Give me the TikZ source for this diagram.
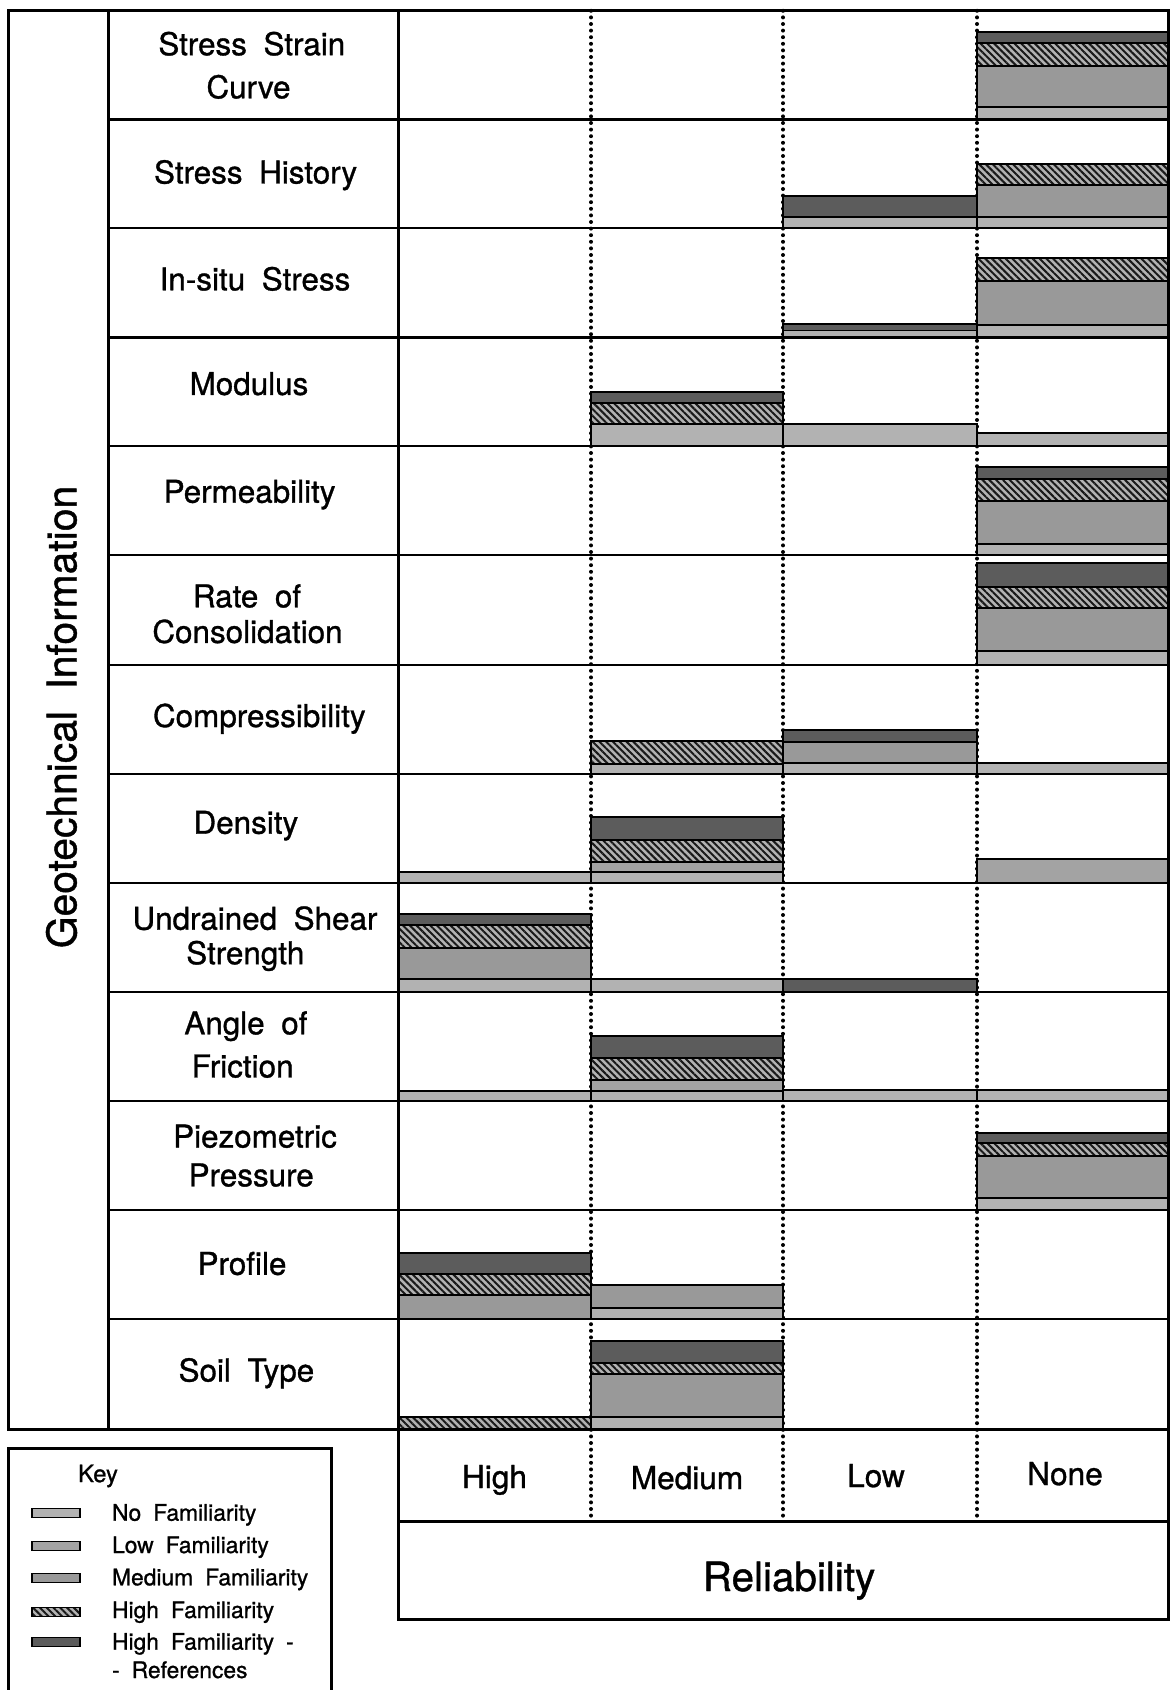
\documentclass[tikz,border=0pt]{standalone}
\usepackage{fontspec}
\setmainfont[WordSpace=1.9,FakeBold=1]{TeX Gyre Heros}
\usetikzlibrary{patterns.meta}

% column edges of the reliability grid
\def\cA{398}
\def\cB{591}
\def\cC{783}
\def\cD{977}
\def\cE{1168}

\begin{document}
\begin{tikzpicture}[x=0.5pt,y=-0.5pt,
  frame/.style={line width=1.5pt, line cap=rect},
  rowline/.style={line width=1.2pt},
  dotline/.style={line width=2pt, dash pattern=on 0pt off 3.3pt, line cap=round},
  segbase/.style={draw=black, line width=0.9pt},
  segNo/.style={segbase, fill=black!30},
  segLow/.style={segbase, fill=black!36},
  segMed/.style={segbase, fill=black!40},
  segHigh/.style={segbase, preaction={fill=black!30},
    pattern={Lines[angle=-45,distance=2.4pt,line width=1pt]}, pattern color=black!90},
  segRef/.style={segbase, fill=black!64},
  lab/.style={font=\fontsize{15.7}{19}\selectfont, anchor=base, inner sep=0pt},
  colhead/.style={font=\fontsize{15.8}{19}\selectfont, anchor=base, inner sep=0pt},
  keytext/.style={font=\fontsize{11.4}{14}\selectfont, anchor=base west, inner sep=0pt},
]
\useasboundingbox (0,0) rectangle (1171,1690);
\fill[white] (0,0) rectangle (1171,1690);

% dotted separators between reliability classes
\draw[dotline] (\cB,10.8) -- (\cB,1521);
\draw[dotline] (\cC,10.8) -- (\cC,1521);
\draw[dotline] (\cD,10.8) -- (\cD,1521);

% ---- stacked familiarity bars (bottom: none ... top: references) ----
% Stress Strain Curve
\draw[segRef]  (\cD,31.7) rectangle (\cE,43.3);
\draw[segHigh] (\cD,43.3) rectangle (\cE,66);
\draw[segMed]  (\cD,66) rectangle (\cE,107.3);
\draw[segNo]   (\cD,107.3) rectangle (\cE,119.5);
% Stress History
\draw[segRef]  (\cC,195.7) rectangle (\cD,216.7);
\draw[segNo]   (\cC,216.7) rectangle (\cD,228);
\draw[segHigh] (\cD,164) rectangle (\cE,185);
\draw[segMed]  (\cD,185) rectangle (\cE,217.3);
\draw[segNo]   (\cD,217.3) rectangle (\cE,228);
% In-situ Stress
\draw[segRef]  (\cC,324.3) rectangle (\cD,330.5);
\draw[segNo]   (\cC,330.5) rectangle (\cD,337.5);
\draw[segHigh] (\cD,258.3) rectangle (\cE,280.7);
\draw[segMed]  (\cD,280.7) rectangle (\cE,325);
\draw[segNo]   (\cD,325) rectangle (\cE,337.5);
% Modulus
\draw[segRef]  (\cB,391.7) rectangle (\cC,402.7);
\draw[segHigh] (\cB,402.7) rectangle (\cC,424.3);
\draw[segNo]   (\cB,424.3) rectangle (\cC,446);
\draw[segNo]   (\cC,424.3) rectangle (\cD,446);
\draw[segNo]   (\cD,433.3) rectangle (\cE,446);
% Permeability
\draw[segRef]  (\cD,466.7) rectangle (\cE,479.3);
\draw[segHigh] (\cD,479.3) rectangle (\cE,501);
\draw[segMed]  (\cD,501) rectangle (\cE,544.3);
\draw[segNo]   (\cD,544.3) rectangle (\cE,555);
% Rate of Consolidation
\draw[segRef]  (\cD,563.3) rectangle (\cE,586.7);
\draw[segHigh] (\cD,586.7) rectangle (\cE,608.3);
\draw[segMed]  (\cD,608.3) rectangle (\cE,651);
\draw[segNo]   (\cD,651) rectangle (\cE,665);
% Compressibility
\draw[segHigh] (\cB,741) rectangle (\cC,764);
\draw[segNo]   (\cB,764) rectangle (\cC,774);
\draw[segRef]  (\cC,730) rectangle (\cD,741.7);
\draw[segMed]  (\cC,741.7) rectangle (\cD,762.7);
\draw[segNo]   (\cC,762.7) rectangle (\cD,774);
\draw[segNo]   (\cD,762.7) rectangle (\cE,774);
% Density
\draw[segNo]   (\cA,871.7) rectangle (\cB,883);
\draw[segRef]  (\cB,816.7) rectangle (\cC,840);
\draw[segHigh] (\cB,840) rectangle (\cC,861.7);
\draw[segLow]  (\cB,861.7) rectangle (\cC,871.7);
\draw[segNo]   (\cB,871.7) rectangle (\cC,883);
\draw[segLow]  (\cD,859.3) rectangle (\cE,883);
% Undrained Shear Strength
\draw[segRef]  (\cA,914.3) rectangle (\cB,925);
\draw[segHigh] (\cA,925) rectangle (\cB,948.3);
\draw[segMed]  (\cA,948.3) rectangle (\cB,979.3);
\draw[segNo]   (\cA,979.3) rectangle (\cB,992);
\draw[segNo]   (\cB,979.3) rectangle (\cC,992);
\draw[segRef]  (\cC,979.3) rectangle (\cD,992);
% Angle of Friction
\draw[segNo]   (\cA,1091) rectangle (\cB,1101);
\draw[segRef]  (\cB,1035.7) rectangle (\cC,1058.3);
\draw[segHigh] (\cB,1058.3) rectangle (\cC,1080);
\draw[segLow]  (\cB,1080) rectangle (\cC,1091);
\draw[segNo]   (\cB,1091) rectangle (\cC,1101);
\draw[segNo]   (\cC,1090) rectangle (\cD,1101);
\draw[segNo]   (\cD,1090) rectangle (\cE,1101);
% Piezometric Pressure
\draw[segRef]  (\cD,1133.3) rectangle (\cE,1143.3);
\draw[segHigh] (\cD,1143.3) rectangle (\cE,1156);
\draw[segMed]  (\cD,1156) rectangle (\cE,1197.7);
\draw[segNo]   (\cD,1197.7) rectangle (\cE,1210);
% Profile
\draw[segRef]  (\cA,1252.7) rectangle (\cB,1274.3);
\draw[segHigh] (\cA,1274.3) rectangle (\cB,1295);
\draw[segMed]  (\cA,1295) rectangle (\cB,1319);
\draw[segMed]  (\cB,1285) rectangle (\cC,1307.7);
\draw[segNo]   (\cB,1307.7) rectangle (\cC,1319);
% Soil Type
\draw[segHigh] (\cA,1416.7) rectangle (\cB,1429);
\draw[segRef]  (\cB,1341) rectangle (\cC,1363.3);
\draw[segHigh] (\cB,1363.3) rectangle (\cC,1374);
\draw[segMed]  (\cB,1374) rectangle (\cC,1417.3);
\draw[segNo]   (\cB,1417.3) rectangle (\cC,1429);

% ---- grid lines ----
\foreach \y in {119.5,228,337.5,446,555,665,774,883,992,1101,1210,1319}
  \draw[rowline] (108.9,\y) -- (\cE,\y);
\draw[frame] (8.6,10.8) rectangle (\cE,1429);
\draw[frame] (108.9,10.8) -- (108.9,1429);
\draw[frame] (\cA,10.8) -- (\cA,1619);
\draw[frame] (\cE,1429) -- (\cE,1619);
\draw[frame] (\cA,1521) -- (\cE,1521);
\draw[frame] (\cA,1619) -- (\cE,1619);

% ---- row labels ----
\node[lab] (sscA) at (251.8,55.2) {Stress Strain};
\node[lab] (sscB) at (248.5,98.3) {Curve};
\node[lab] (sh)   at (255.6,183.5) {Stress History};
\node[lab] (iss)  at (255,290.3) {In-situ Stress};
\node[lab] (mod)  at (249,394.9) {Modulus};
\node[lab] (perm) at (249.6,502.7) {Permeability};
\node[lab] (rocA) at (247,607.3) {Rate of};
\node[lab] (rocB) at (247.5,642.9) {Consolidation};
\node[lab] (comp) at (259.3,727) {Compressibility};
\node[lab] (dens) at (245.9,833.7) {Density};
\node[lab] (ussA) at (255,929.7) {Undrained Shear};
\node[lab] (ussB) at (245.3,964.2) {Strength};
\node[lab] (aofA) at (245.9,1034.3) {Angle of};
\node[lab] (aofB) at (242.6,1077.4) {Friction};
\node[lab] (ppA)  at (255,1147.5) {Piezometric};
\node[lab] (ppB)  at (251.2,1186.3) {Pressure};
\node[lab] (prof) at (242,1274.8) {Profile};
\node[lab] (soil) at (246.4,1381.5) {Soil Type};

% axis titles
\node[rotate=90, font=\fontsize{20.4}{24}\selectfont, inner sep=0pt] (geo) at (61.5,717) {Geotechnical Information};
\node[colhead] (hHigh) at (494.5,1488) {High};
\node[colhead] (hMed)  at (687,1489) {Medium};
\node[colhead] (hLow)  at (876,1487) {Low};
\node[colhead] (hNone) at (1065,1485) {None};
\node[font=\fontsize{20.2}{24}\selectfont, anchor=base, inner sep=0pt] (rel) at (789,1591) {Reliability};

% ---- key ----
\draw[frame] (8.3,1700) -- (8.3,1448.3) -- (331.7,1448.3) -- (331.7,1700);
\node[font=\fontsize{11.9}{14}\selectfont, inner sep=0pt] (key) at (98,1476) {Key};
\draw[segNo]   (31.7,1508.5) rectangle (80,1517.5);
\draw[segLow]  (31.7,1541.5) rectangle (80,1550.5);
\draw[segMed]  (31.7,1573.5) rectangle (80,1582.5);
\draw[segHigh] (31.7,1607.5) rectangle (80,1616.5);
\draw[segRef]  (31.7,1637.5) rectangle (80,1646.5);
\node[keytext] (kNo)   at (111.7,1520.7) {No Familiarity};
\node[keytext] (kLow)  at (111.7,1553) {Low Familiarity};
\node[keytext] (kMed)  at (111.7,1585.3) {Medium Familiarity};
\node[keytext] (kHigh) at (111.7,1618) {High Familiarity};
\node[keytext] (kRefA) at (111.7,1649.7) {High Familiarity -};
\node[keytext] (kRefB) at (111.7,1678) {- References};
\end{tikzpicture}
\end{document}
